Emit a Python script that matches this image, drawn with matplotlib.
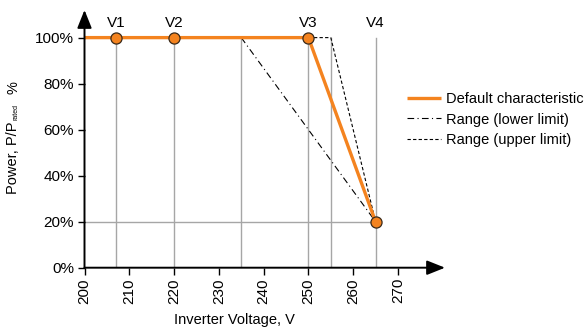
import matplotlib
matplotlib.use("Agg")
import matplotlib.pyplot as plt

plt.rcParams['font.family'] = ['Liberation Sans', 'DejaVu Sans']

# Data
default_v = [200, 250, 265]
default_p = [100, 100, 20]
lower_v = [235, 265]
lower_p = [100, 20]
upper_v = [250, 255, 265]
upper_p = [100, 100, 20]
point_names = ["V1", "V2", "V3", "V4"]
point_v = [207, 220, 250, 265]
point_p = [100, 100, 100, 20]
guide_v = [207, 220, 235, 250, 255, 265]
x_ticks = [200, 210, 220, 230, 240, 250, 260, 270]
y_ticks = [0, 20, 40, 60, 80, 100]
y_labels = ["0%", "20%", "40%", "60%", "80%", "100%"]
legend_labels = ["Default characteristic", "Range (lower limit)", "Range (upper limit)"]

ORANGE = "#F4831F"
GRID = "#a6a6a6"
FS = 11

fig = plt.figure(figsize=(5.88, 3.28), dpi=100)
ax = fig.add_axes([84.5/588, 1-267.7/328, (445-84.5)/588, (267.7-10)/328])
xmax, ymax = 280.5, 112
ax.set_xlim(200, xmax)
ax.set_ylim(0, ymax)

for s in ax.spines.values():
    s.set_visible(False)

# guide lines
for v in guide_v:
    ax.plot([v, v], [0, 100], color=GRID, lw=1.0, zorder=1)
ax.plot([200, 265], [20, 20], color=GRID, lw=1.0, zorder=1)

# series
l1, = ax.plot(default_v, default_p, color=ORANGE, lw=2.4, zorder=3, solid_capstyle='butt')
l2, = ax.plot(lower_v, lower_p, color="black", lw=0.8, dashes=(6, 3, 1, 3), zorder=2)
l3, = ax.plot(upper_v, upper_p, color="black", lw=0.8, dashes=(3, 2), zorder=2)

ax.plot(point_v, point_p, linestyle='none', marker='o', ms=8, mfc=ORANGE, mec="#3a2a1a",
        mew=0.9, zorder=5, clip_on=False)
for name, v in zip(point_names, point_v):
    ax.text(v, 106.5, name, ha='center', va='center', fontsize=FS)

# axis arrows
arrow = dict(arrowstyle='-|>,head_length=0.55,head_width=0.22', color='black', lw=1.4,
             mutation_scale=20, shrinkA=0, shrinkB=0)
ax.annotate('', xy=(xmax, 0), xytext=(200, 0), arrowprops=arrow, annotation_clip=False)
ax.annotate('', xy=(200, ymax), xytext=(200, 0), arrowprops=arrow, annotation_clip=False)

ax.set_xticks(x_ticks)
ax.set_xticklabels([str(t) for t in x_ticks], rotation=90, fontsize=FS)
ax.set_yticks(y_ticks)
ax.set_yticklabels(y_labels, fontsize=FS)
ax.tick_params(axis='both', direction='out', length=5, width=1.0, color='black', pad=2.5)

fig.text(234.5/588, 1-320/328, "Inverter Voltage, V", ha='center', va='center', fontsize=10.5)
fig.text(13/588, 1-158/328, "Power, P/P", rotation=90, ha='center', va='center', fontsize=10.5)
fig.text(16.5/588, 1-112/328, "rated", rotation=90, ha='center', va='center', fontsize=5)
fig.text(13/588, 1-87.5/328, "%", rotation=90, ha='center', va='center', fontsize=10.5)

ax.legend([l1, l2, l3], legend_labels, loc='upper left',
          bbox_to_anchor=(407/588, 1-92/328), bbox_transform=fig.transFigure,
          frameon=False, fontsize=10.5, handlelength=2.35, handletextpad=0.3,
          labelspacing=0.45, borderpad=0, borderaxespad=0)

fig.savefig("out.png", dpi=100)
